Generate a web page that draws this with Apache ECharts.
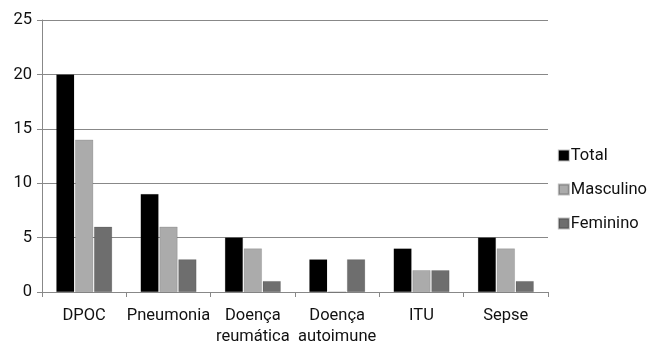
<!DOCTYPE html>
<html>
<head>
<meta charset="utf-8">
<script src="https://cdn.jsdelivr.net/npm/echarts@6/dist/echarts.min.js"></script>
<style>
  html, body { margin: 0; padding: 0; background: #fff; }
  #chart { width: 656px; height: 347px; }
</style>
</head>
<body>
<div id="chart"></div>
<script>
const categories = ['DPOC', 'Pneumonia', 'Doença\nreumática', 'Doença\nautoimune', 'ITU', 'Sepse'];
const total = [20, 9, 5, 3, 4, 5];
const masculino = [14, 6, 4, 0, 2, 4];
const feminino = [6, 3, 1, 3, 2, 1];
const yTicks = { min: 0, max: 25, interval: 5 };

const font = 'Roboto, "Liberation Sans", sans-serif';
const chart = echarts.init(document.getElementById('chart'));

function barSeries(name, data, color) {
  return {
    name, type: 'bar', data,
    barWidth: 18, barGap: '5%',
    itemStyle: { color, borderColor: 'rgba(0,0,0,0.25)', borderWidth: 0.5 }
  };
}

chart.setOption({
  animation: false,
  textStyle: { fontFamily: font },
  grid: { left: 42, right: 108, top: 20, bottom: 52 },
  legend: {
    orient: 'vertical', right: 4, top: 142,
    itemWidth: 10, itemHeight: 10, itemGap: 17,
    icon: 'rect',
    textStyle: { fontSize: 16.5, color: '#111', fontFamily: font, padding: [0, 0, 0, -3] },
    data: ['Total', 'Masculino', 'Feminino']
  },
  xAxis: {
    type: 'category', data: categories,
    axisLine: { lineStyle: { color: '#888', width: 1 } },
    axisTick: { show: true, length: 5, lineStyle: { color: '#888' } },
    axisLabel: { fontSize: 16.5, color: '#111', margin: 13, lineHeight: 21, interval: 0 }
  },
  yAxis: {
    type: 'value', ...yTicks,
    axisLine: { show: true, lineStyle: { color: '#888' } },
    axisTick: { show: true, length: 5, lineStyle: { color: '#888' } },
    splitLine: { lineStyle: { color: '#888', width: 1 } },
    axisLabel: { fontSize: 16.5, color: '#111', margin: 10 }
  },
  series: [
    barSeries('Total', total, '#000000'),
    barSeries('Masculino', masculino, '#ababab'),
    barSeries('Feminino', feminino, '#6e6e6e')
  ]
});
</script>
</body>
</html>
